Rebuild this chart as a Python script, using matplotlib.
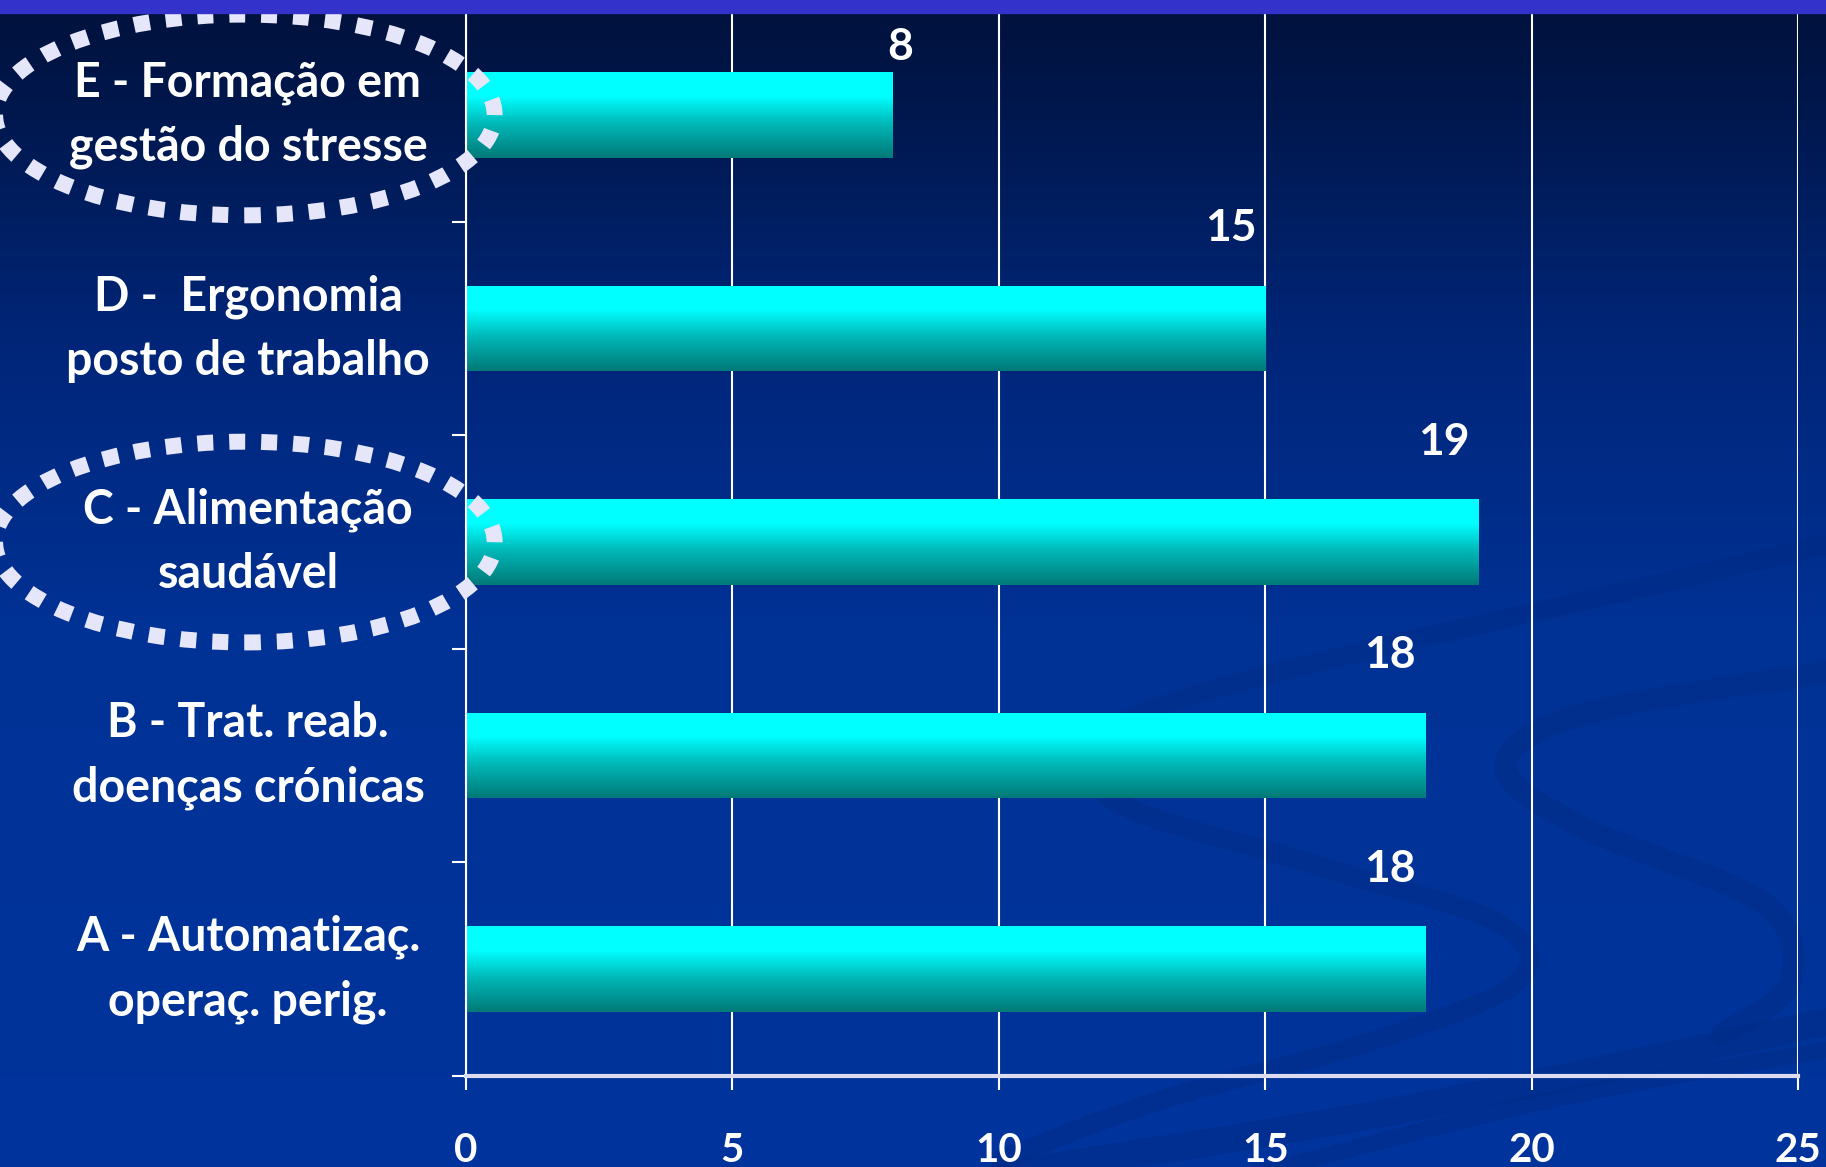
import matplotlib.pyplot as plt
import numpy as np
from matplotlib.colors import LinearSegmentedColormap
from matplotlib.patches import Ellipse, Rectangle, PathPatch
from matplotlib.path import Path
from matplotlib.transforms import blended_transform_factory

plt.rcParams['font.family'] = ['Lato', 'DejaVu Sans']

# Dados
categorias = ['A - Automatizaç.\noperaç. perig.',
              'B - Trat. reab.\ndoenças crónicas',
              'C - Alimentação\nsaudável',
              'D -  Ergonomia\nposto de trabalho',
              'E - Formação em\ngestão do stresse']
valores = [18, 18, 19, 15, 8]
destaque = ['C', 'E']  # categorias com elipse pontilhada
xticks = [0, 5, 10, 15, 20, 25]

W, H = 1826, 1167
fig = plt.figure(figsize=(W / 100, H / 100), dpi=100)

# Fundo em gradiente (azul escuro em cima -> azul)
fundo = fig.add_axes([0, 0, 1, 1], zorder=0)
cmap_fundo = LinearSegmentedColormap.from_list(
    'fundo', [(0, '#00113a'), (0.3, '#00267a'), (0.55, '#003296'), (1, '#00349c')])
fundo.imshow(np.linspace(0, 1, 256).reshape(-1, 1), aspect='auto', cmap=cmap_fundo,
             extent=[0, W, H, 0])
fundo.set_xlim(0, W)
fundo.set_ylim(H, 0)
fundo.axis('off')


# Curvas decorativas do modelo do diapositivo (em pixels)
def curva(pts):
    pts = np.asarray(pts, float)
    p = np.vstack([pts[0], pts, pts[-1]])
    verts = [pts[0]]
    codes = [Path.MOVETO]
    for k in range(1, len(p) - 2):
        c1 = p[k] + (p[k + 1] - p[k - 1]) / 6
        c2 = p[k + 1] - (p[k + 2] - p[k]) / 6
        verts += [c1, c2, p[k + 1]]
        codes += [Path.CURVE4] * 3
    return Path(verts, codes)


enfeites = [
    [(1826, 545), (1701, 574), (1158, 707), (1105, 794), (1316, 865), (1500, 924),
     (1516, 983), (1369, 1042), (1158, 1101), (1000, 1160)],
    [(1826, 672), (1580, 715), (1506, 767), (1580, 826), (1764, 904), (1790, 983),
     (1722, 1034)],
    [(1000, 1175), (1400, 1110), (1826, 1022)],
    [(1250, 1175), (1550, 1100), (1826, 1050)],
]
for pts, lw in zip(enfeites, [14, 16, 20, 12]):
    fundo.add_patch(PathPatch(curva(pts), fill=False, edgecolor='#002a80',
                              lw=lw, alpha=0.35, capstyle='round'))

# Faixa roxa no topo
fig.add_artist(Rectangle((0, 1 - 13 / H), 1, 13 / H, transform=fig.transFigure,
                         color='#3333cc', zorder=20))

ax = fig.add_axes([0.2552, 0.078, 0.7295, 0.915], zorder=1)
ax.set_facecolor('none')

ypos = np.arange(len(valores))
bars = ax.barh(ypos, valores, height=0.4, color='none', zorder=2)

# Gradiente das barras: ciano em cima, verde-azulado em baixo
cmap_barra = LinearSegmentedColormap.from_list(
    'barra', [(0, '#007a78'), (0.4, '#00b8b8'), (0.72, '#00ffff'), (1, '#00ffff')])
grad = np.linspace(0, 1, 100).reshape(-1, 1)
for b in bars:
    x0, y0 = b.get_x(), b.get_y()
    im = ax.imshow(grad, cmap=cmap_barra, aspect='auto', origin='lower',
                   extent=[x0, x0 + b.get_width(), y0, y0 + b.get_height()], zorder=2)
    im.set_clip_path(b)

ax.set_xlim(0, 25)
ax.set_ylim(-0.5, len(valores) - 0.5)

# Rótulos de valor acima das barras
for i, v in enumerate(valores):
    s = str(v)
    y = min(i + 0.47, len(valores) - 0.68)
    ax.annotate(s, (v, y), xytext=(6 - 31 * (len(s) - 1), 0), textcoords='offset points',
                ha='center', va='center', color='white', fontsize=32, fontweight='bold')

# Eixos
ax.set_xticks(xticks)
ax.xaxis.grid(True, color='white', lw=1.5)
ax.set_axisbelow(True)
ax.tick_params(axis='x', direction='out', length=10, width=1.5, color='white',
               pad=30, labelsize=29, labelcolor='white')
for lab in ax.get_xticklabels():
    lab.set_fontweight('bold')

ax.set_yticks(ypos)
ax.set_yticklabels(categorias)
ax.set_yticks(np.arange(-0.5, len(valores) - 0.5, 1), minor=True)
ax.tick_params(axis='y', which='major', length=0, pad=157, labelsize=33.5, labelcolor='white')
ax.tick_params(axis='y', which='minor', direction='out', length=10, width=1.5, color='white')
for lab in ax.get_yticklabels():
    lab.set_ha('center')
    lab.set_va('center')
    lab.set_multialignment('center')
    lab.set_fontweight('bold')
    lab.set_linespacing(1.55)

for sp in ['top', 'right']:
    ax.spines[sp].set_visible(False)
ax.spines['left'].set_color('white')
ax.spines['left'].set_linewidth(1.5)
ax.spines['bottom'].set_color('#dcdcf0')
ax.spines['bottom'].set_linewidth(3)

# Elipses pontilhadas em volta das categorias em destaque
trans = blended_transform_factory(ax.transAxes, ax.transData)
letras = [c[0] for c in categorias]
for d in destaque:
    i = letras.index(d)
    e = Ellipse((-0.166, i), 0.375, 0.94, transform=trans, fill=False,
                edgecolor='#e6e6fa', lw=11.5, linestyle=(0, (1, 1)),
                clip_on=False, zorder=5)
    e.set_capstyle('butt')
    ax.add_patch(e)

fig.savefig('out.png', dpi=100)
